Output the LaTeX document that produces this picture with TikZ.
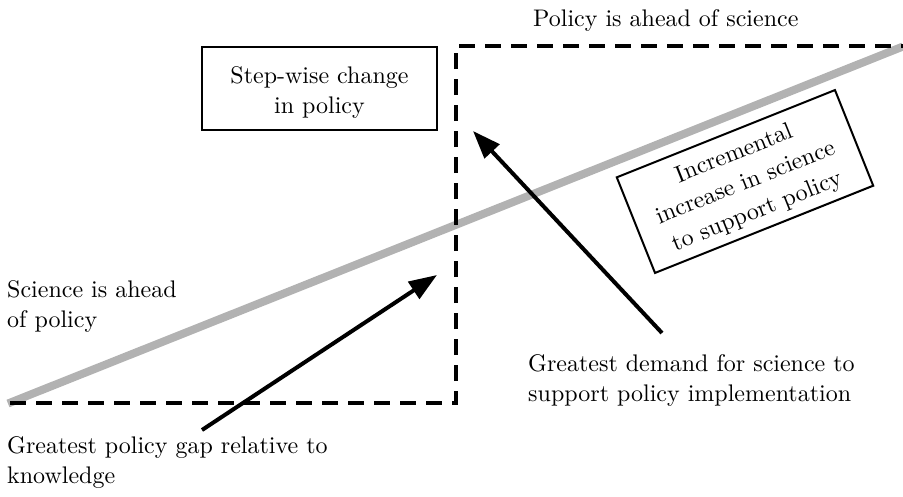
\documentclass[tikz,border=0pt]{standalone}
\usepackage{fontspec}
\setmainfont{lmroman10-regular}[Extension=.otf]
\usetikzlibrary{arrows.meta}
\definecolor{linegray}{gray}{0.7}
\begin{document}
\begin{tikzpicture}[x=1pt,y=-1pt, font=\fontsize{24}{30}\selectfont,
  lbl/.style={inner sep=0pt, anchor=base west, align=left},
  boxed/.style={draw, line width=2pt, inner sep=0pt, align=center},
  boxtext/.style={inner sep=0pt, align=center},
  arr/.style={line width=4pt, -{Triangle[length=28pt,width=20pt]}},
  dashline/.style={line width=4.5pt, dash pattern=on 16pt off 10pt, line join=miter},
  sciline/.style={line width=8pt, draw=linegray}]
\useasboundingbox (0,0) rectangle (903,496);
% science line
\coordinate (s0) at (8,403.5);
\coordinate (s1) at (903,46.5);
\draw[sciline] (s0) -- (s1);
% dashed policy step
\coordinate (d0) at (10,403);
\coordinate (d1) at (456,403);
\coordinate (d2) at (456,46);
\coordinate (d3) at (903,46);
\draw[dashline] (d0) -- (d1) -- (d2) -- (d3);
% arrows
\coordinate (a1s) at (202,430);
\coordinate (a1e) at (437,275);
\draw[arr] (a1s) -- (a1e);
\coordinate (a2s) at (662,333);
\coordinate (a2e) at (473,131);
\draw[arr] (a2s) -- (a2e);
% boxes
\node[boxed, minimum width=235pt, minimum height=83pt] (stepbox) at (319.5,88.5) {};
\node[boxtext, anchor=base] (steptext) at (319.5,113) {Step-wise change\\in policy};
\node[boxed, rotate=21.8, minimum width=235pt, minimum height=103pt] (incbox) at (745,181.5) {};
\node[boxtext, rotate=21.8, font=\fontsize{24}{31}\selectfont, yshift=-2pt] (inctext) at (incbox.center) {Incremental\\increase in science\\to support policy};
% labels
\node[lbl] (ahead) at (533,26) {Policy is ahead of science};
\node[lbl] (sci) at (7,327) {Science is ahead\\of policy};
\node[lbl] (demand) at (528,401) {Greatest demand for science to\\support policy implementation};
\node[lbl] (gap) at (7,483) {Greatest policy gap relative to\\knowledge};
\end{tikzpicture}
\end{document}
